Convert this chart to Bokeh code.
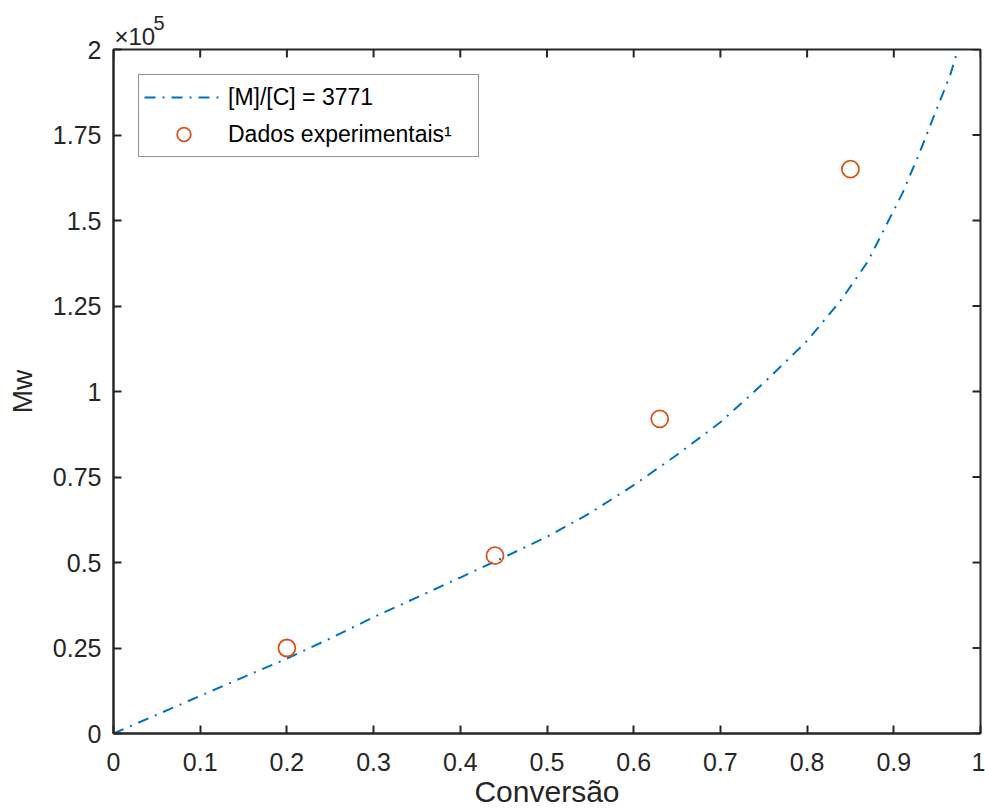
from bokeh.plotting import figure
from bokeh.models import Range1d, FixedTicker, Title
from bokeh.embed import file_html
from bokeh.resources import INLINE

# ---- data ----
conv_model = [0.0, 0.05, 0.10, 0.15, 0.20, 0.25, 0.30, 0.35, 0.40, 0.45, 0.50,
              0.55, 0.60, 0.65, 0.70, 0.75, 0.80, 0.84, 0.87, 0.89, 0.91, 0.93,
              0.95, 0.965, 0.974]
mw_model = [0, 5500, 11000, 16500, 21900, 27800, 34000, 39800, 45600, 51500, 57500,
            64500, 72600, 81500, 91000, 102500, 114800, 127000, 138000, 148000,
            158000, 170000, 182900, 192500, 200000]

conv_exp = [0.20, 0.44, 0.63, 0.85]
mw_exp = [25000, 52000, 92000, 165000]

x_ticks = [0, 0.1, 0.2, 0.3, 0.4, 0.5, 0.6, 0.7, 0.8, 0.9, 1.0]
x_tick_labels = ["0", "0.1", "0.2", "0.3", "0.4", "0.5", "0.6", "0.7", "0.8", "0.9", "1"]
y_ticks = [0, 25000, 50000, 75000, 100000, 125000, 150000, 175000, 200000]
y_tick_labels = ["0", "0.25", "0.5", "0.75", "1", "1.25", "1.5", "1.75", "2"]

series_model = "[M]/[C] = 3771"
series_exp = "Dados experimentais\u00b9"
x_label = "Conversão"
y_label = "Mw"
exp_base = "\u00d710"
exp_power = "5"

X_MIN, X_MAX = 0, 1
Y_MIN, Y_MAX = 0, 200000

FONT = "Liberation Sans"
AX = "#262626"
BLUE = "#0072BD"
ORANGE = "#D95319"

W, H = 985, 810
BL, BR, BT, BB = 113, 5, 49, 77
FW, FH = W - BL - BR, H - BT - BB
TICK = 8

p = figure(width=W, height=H,
           x_range=Range1d(X_MIN, X_MAX), y_range=Range1d(Y_MIN, Y_MAX),
           output_backend="svg", toolbar_location=None,
           min_border_left=BL, min_border_right=BR,
           min_border_top=BT, min_border_bottom=BB,
           background_fill_color="white", border_fill_color="white")
p.grid.visible = False
p.outline_line_color = AX
p.outline_line_width = 2

# exponent marker "x10^5": the base sits right above the frame,
# the power is the outer title, pulled down next to it
p.title.text = exp_power
p.title.align = "left"
p.title.offset = 40
p.title.standoff = -19
p.title.text_font = FONT
p.title.text_font_size = "20px"
p.title.text_font_style = "normal"
p.title.text_color = AX

base_title = Title(text=exp_base, align="left", offset=1, standoff=0,
                   text_font=FONT, text_font_size="24px",
                   text_font_style="normal", text_color=AX)
p.add_layout(base_title, "above")

p.line(conv_model, mw_model, line_color=BLUE, line_width=2,
       line_dash="11 7 2 7", legend_label=series_model)
p.scatter(conv_exp, mw_exp, marker="circle", size=17, fill_color=None,
          line_color=ORANGE, line_width=1.8, legend_label=series_exp)

# inward ticks on top and right sides of the box
dy = TICK * (Y_MAX - Y_MIN) / FH
dx = TICK * (X_MAX - X_MIN) / FW
p.segment(x0=x_ticks, y0=[Y_MAX] * len(x_ticks), x1=x_ticks, y1=[Y_MAX - dy] * len(x_ticks),
          line_color=AX, line_width=2)
p.segment(x0=[X_MAX] * len(y_ticks), y0=y_ticks, x1=[X_MAX - dx] * len(y_ticks), y1=y_ticks,
          line_color=AX, line_width=2)

def style_axis(ax):
    ax.axis_line_color = AX
    ax.axis_line_width = 2
    ax.major_tick_line_color = AX
    ax.major_tick_line_width = 2
    ax.major_tick_in = TICK
    ax.major_tick_out = 0
    ax.minor_tick_in = 0
    ax.minor_tick_out = 0
    ax.minor_tick_line_color = None
    ax.major_label_text_font = FONT
    ax.major_label_text_color = AX
    ax.major_label_text_font_size = "25px"
    ax.axis_label_text_font = FONT
    ax.axis_label_text_font_style = "normal"
    ax.axis_label_text_color = AX

xa = p.xaxis[0]
xa.ticker = FixedTicker(ticks=x_ticks)
xa.major_label_overrides = {t: l for t, l in zip(x_ticks, x_tick_labels)}
style_axis(xa)
xa.major_label_standoff = 19
xa.axis_label = x_label
xa.axis_label_text_font_size = "30px"
xa.axis_label_standoff = 1

ya = p.yaxis[0]
ya.ticker = FixedTicker(ticks=y_ticks)
ya.major_label_overrides = {t: l for t, l in zip(y_ticks, y_tick_labels)}
style_axis(ya)
ya.major_label_standoff = 12
ya.axis_label = y_label
ya.axis_label_text_font_size = "28px"
ya.axis_label_standoff = 12

lg = p.legend[0]
lg.location = "top_left"
lg.margin = 25
lg.padding = 5
lg.spacing = 3
lg.glyph_width = 79
lg.glyph_height = 34
lg.label_height = 34
lg.label_width = 245
lg.label_standoff = 5
lg.label_text_font = FONT
lg.label_text_font_size = "23px"
lg.label_text_color = "black"
lg.border_line_color = AX
lg.border_line_width = 1.5
lg.background_fill_color = "white"
lg.background_fill_alpha = 1.0

open("out.html", "w").write(file_html(p, INLINE))
